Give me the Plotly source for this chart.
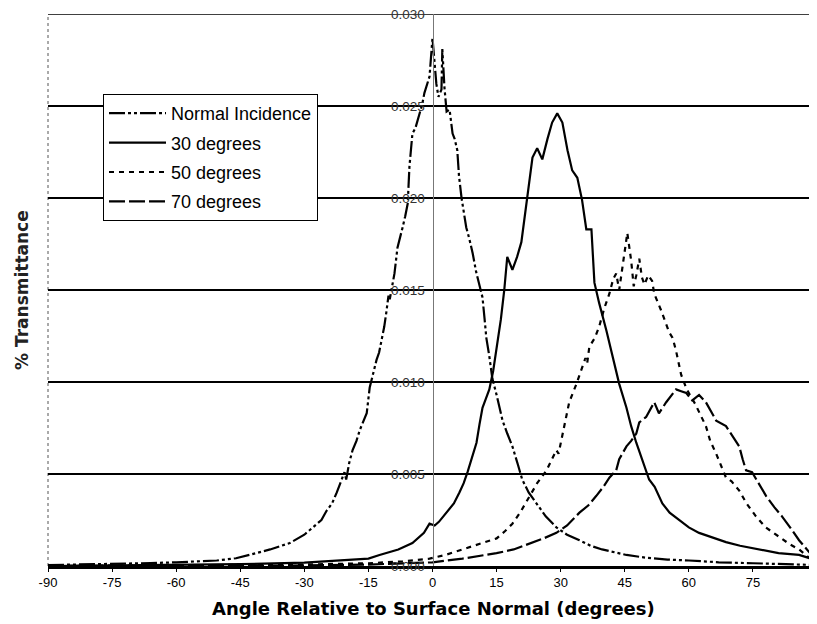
import plotly.graph_objects as go

# ---------------- data ----------------
normal_x = [-90, -80, -75, -70, -66, -60, -55, -50.5, -46, -42.8, -38, -33.4, -30, -28, -26,
            -24.8, -23.5, -22.4, -21.5, -20.6, -20.2, -19.5, -18.7, -17.8, -17, -16.2, -15.4,
            -14.7, -13.8, -13.1, -12.5, -11.9, -11.3, -10.8, -10.3, -10, -9.5, -8.9, -8.2, -7.6,
            -7, -6.4, -5.8, -5.4, -4.7, -4.0, -3.0, -2.4, -1.9, -1.2, -0.7, 0, 0.5, 0.9, 1.4,
            2.1, 2.3, 2.8, 3.3, 4.0, 4.7, 5.2, 5.8, 6.2, 6.8, 7.4, 7.9, 8.6, 9.4, 10.2, 11,
            11.7, 12.2, 12.6, 13.3, 14, 15, 16.4, 17.5, 18.7, 20, 21, 22.5, 24.3, 26.5, 29,
            31.5, 34.4, 37, 39.7, 45.4, 50, 55, 60, 67, 75, 82, 90]
normal_y = [0.00005, 0.00008, 0.0001, 0.00012, 0.00016, 0.0002, 0.00025, 0.0003, 0.00042, 0.0006,
            0.0009, 0.00125, 0.0017, 0.0021, 0.0025, 0.003, 0.0034, 0.004, 0.0045, 0.0051, 0.0047,
            0.0056, 0.0063, 0.0068, 0.0074, 0.0079, 0.0083, 0.0097, 0.0106, 0.0112, 0.0116, 0.0123,
            0.013, 0.0138, 0.0147, 0.0145, 0.0152, 0.0159, 0.0173, 0.0178, 0.0184, 0.019, 0.0197,
            0.0217, 0.0235, 0.0238, 0.0246, 0.0251, 0.0257, 0.0262, 0.0266, 0.0287, 0.027, 0.0262,
            0.0255, 0.0259, 0.0281, 0.026, 0.0247, 0.0248, 0.0235, 0.0232, 0.0226, 0.0212, 0.0200,
            0.0192, 0.0184, 0.0178, 0.0170, 0.0160, 0.0152, 0.0146, 0.0134, 0.0124, 0.0114, 0.0102,
            0.0093, 0.0079, 0.0072, 0.0065, 0.0055, 0.0047, 0.0040, 0.0034, 0.0027, 0.0021, 0.0017,
            0.0014, 0.0011, 0.0009, 0.0006, 0.00045, 0.00035, 0.0003, 0.0002, 0.00015, 0.0001, 0.00005]

deg30_x = [-90, -75, -60, -45, -30, -20, -15, -12.4, -8, -4.7, -2, -0.7, 0.5, 1.5, 3.3, 5, 6.3,
           7.3, 8.2, 9.3, 10.3, 11, 11.7, 12.5, 13.3, 14.2, 15, 16, 16.8, 17.5, 18.7, 19.8, 20.8,
           21.5, 22.2, 22.8, 23.4, 24.5, 25.7, 26.9, 28, 29.2, 30.4, 31.6, 32.7, 33.9, 35, 36,
           37.2, 37.9, 39, 40.7, 42.1, 43.7, 45.4, 46.5, 47.7, 49, 50.7, 52, 53.8, 55.5, 57.7,
           60, 62.4, 65, 68.7, 72, 76.4, 81, 85.8, 90]
deg30_y = [0.0, 0.00002, 0.00005, 0.0001, 0.00018, 0.0003, 0.0004, 0.0006, 0.0009, 0.00125, 0.0018,
           0.0023, 0.0022, 0.0024, 0.0029, 0.0034, 0.0040, 0.0045, 0.0051, 0.0059, 0.0067, 0.0077,
           0.0086, 0.0091, 0.0096, 0.0106, 0.0118, 0.0134, 0.0150, 0.0168, 0.0161, 0.0168, 0.0176,
           0.0188, 0.0199, 0.0212, 0.0222, 0.0227, 0.0221, 0.0232, 0.0241, 0.0246, 0.0241, 0.0226,
           0.0215, 0.0211, 0.0199, 0.0183, 0.0183, 0.0154, 0.0143, 0.0128, 0.0114, 0.0099, 0.0086,
           0.0076, 0.0067, 0.0058, 0.0047, 0.0043, 0.0034, 0.0029, 0.0025, 0.0021, 0.0018, 0.0016,
           0.0013, 0.0011, 0.0009, 0.0007, 0.0006, 0.0003]

deg50_x = [-90, -75, -60, -45, -30, -15, -7, -0.7, 3, 7, 11, 15, 17, 18.7, 20.5, 22.7, 24.5, 26.7,
           28, 29, 29.5, 30.5, 32, 33.7, 35, 35.8, 36.2, 36.7, 38, 39, 40.2, 41.4, 42.3, 43, 43.7,
           44.4, 45.6, 46.5, 47.1, 47.7, 48.4, 49, 49.6, 50.5, 51.4, 51.9, 53.5, 55.4, 56.2, 57,
           58.2, 59.5, 61.5, 64, 65, 66.4, 68.7, 70, 71.8, 73.5, 75.7, 78, 81.1, 83.5, 85.8, 88.8, 90]
deg50_y = [0.0, 0.00001, 0.00002, 0.00004, 0.00008, 0.00015, 0.00025, 0.0004, 0.0006, 0.0009, 0.0012,
           0.0015, 0.0019, 0.0023, 0.0029, 0.0038, 0.0045, 0.0052, 0.0058, 0.0063, 0.0061, 0.0072,
           0.0089, 0.0099, 0.0107, 0.0113, 0.0110, 0.0119, 0.0124, 0.0130, 0.0140, 0.0148, 0.0156,
           0.0159, 0.0150, 0.0161, 0.0181, 0.0166, 0.0152, 0.0158, 0.0167, 0.0157, 0.0153, 0.0158,
           0.0155, 0.0148, 0.0139, 0.0127, 0.0124, 0.0117, 0.0104, 0.0096, 0.0088, 0.0076, 0.0068,
           0.0061, 0.0048, 0.0046, 0.0041, 0.0034, 0.0027, 0.0021, 0.0016, 0.0012, 0.0009, 0.0003, 0.0001]

deg70_x = [-90, -60, -30, -15, -5, 0, 7, 15, 19, 22.7, 26, 29, 31.5, 34.4, 36.5, 38.3, 40, 41.4,
           43, 43.7, 45.4, 46.5, 47.7, 48.4, 50, 51.9, 53, 54.7, 56, 57, 58.2, 59.4, 60.8, 62.4,
           64, 65.2, 66.4, 68.7, 70.5, 71.8, 72.6, 73.4, 74.8, 76.5, 78.1, 80, 81.8, 84, 85.8, 88, 90]
deg70_y = [0.0, 0.00001, 0.00003, 0.00008, 0.00015, 0.0002, 0.0004, 0.0007, 0.0009, 0.0012, 0.0015,
           0.0018, 0.0022, 0.0029, 0.0033, 0.0038, 0.0043, 0.0048, 0.0052, 0.0058, 0.0065, 0.0068,
           0.0072, 0.0078, 0.0081, 0.0089, 0.0083, 0.0089, 0.0093, 0.0096, 0.0095, 0.0094, 0.0090,
           0.0093, 0.0089, 0.0084, 0.0079, 0.0076, 0.0070, 0.0065, 0.0058, 0.0052, 0.0051, 0.0044,
           0.0038, 0.0032, 0.0027, 0.0020, 0.0014, 0.0008, 0.0003]

series_names = ["Normal Incidence", "30 degrees", "50 degrees", "70 degrees"]
x_ticks = [-90, -75, -60, -45, -30, -15, 0, 15, 30, 45, 60, 75, 90]
y_ticks = [0.000, 0.005, 0.010, 0.015, 0.020, 0.025, 0.030]
y_tick_labels = ["0.000", "0.005", "0.010", "0.015", "0.020", "0.025", "0.030"]

# ---------------- figure ----------------
dashes = ["16px,3px,3px,3px,3px,3px", "solid", "5px,5px", "16px,4px"]
data = [(normal_x, normal_y), (deg30_x, deg30_y), (deg50_x, deg50_y), (deg70_x, deg70_y)]

fig = go.Figure()
for i, ((xs, ys), name) in enumerate(zip(data, series_names)):
    fig.add_trace(go.Scatter(
        x=xs, y=ys, name=name, mode="lines", legendgroup=str(i),
        line=dict(color="black", width=2.2, dash=dashes[i]),
    ))

# the page adds an 8px body margin, so the figure starts at (8, 8)
OFF = 8
W, H = 817 - OFF, 624 - OFF
L, R, T, B = 48 - OFF, 0, 14 - OFF, 58
pw, ph = W - L - R, H - T - B


def px_x(x):  # window pixel -> paper x
    return (x - OFF - L) / pw


def px_y(y):  # window pixel -> paper y
    return (T + ph - (y - OFF)) / ph


fig.update_layout(
    width=W, height=H,
    margin=dict(l=L, r=R, t=T, b=B, autoexpand=False),
    paper_bgcolor="white", plot_bgcolor="white",
    font=dict(family="Liberation Sans, Arial", color="black"),
    showlegend=True,
    legend=dict(
        x=px_x(103), y=px_y(94), xanchor="left", yanchor="top",
        bgcolor="white", bordercolor="black", borderwidth=1,
        font=dict(size=18, family="Liberation Sans, Arial", color="black"),
        traceorder="grouped", tracegroupgap=3, itemwidth=57,
    ),
    xaxis=dict(
        range=[-90, 90], tickvals=x_ticks, ticktext=[str(v) for v in x_ticks],
        showgrid=False, zeroline=False,
        showline=True, linecolor="black", linewidth=2.5,
        ticks="outside", ticklen=3, tickcolor="black", ticklabeloverflow="allow",
        tickfont=dict(size=13, family="Liberation Sans, Arial", color="black"),
        automargin=False,
    ),
    yaxis=dict(
        range=[0, 0.030], tickvals=y_ticks, ticktext=y_tick_labels,
        anchor="free", position=0.5, side="left",
        showgrid=True, gridcolor="black", gridwidth=1.5,
        zeroline=False, showline=True, linecolor="#777777", linewidth=1,
        ticks="", ticklabelstandoff=5, ticklabeloverflow="allow",
        tickfont=dict(size=13.5, family="Liberation Sans, Arial", color="#333333"),
        automargin=False,
    ),
    shapes=[
        dict(type="line", xref="paper", yref="paper", x0=0, x1=0, y0=0, y1=1,
             line=dict(color="#555555", width=1, dash="dot"), layer="below"),
        dict(type="line", xref="paper", yref="y", x0=0, x1=1, y0=y_ticks[-1], y1=y_ticks[-1],
             line=dict(color="black", width=1.5), layer="below"),
    ],
    annotations=[
        dict(text="Angle Relative to Surface Normal (degrees)", xref="paper", yref="paper",
             x=px_x(433), y=px_y(608), xanchor="center", yanchor="middle",
             showarrow=False, font=dict(size=18, family="DejaVu Sans", color="black", weight="bold")),
        dict(text="% Transmittance", xref="paper", yref="paper", textangle=-90,
             x=px_x(22), y=0.5, xanchor="center", yanchor="middle",
             showarrow=False, font=dict(size=17, family="DejaVu Sans", color="#222222", weight="bold")),
    ],
)

fig.write_html("out.html")
